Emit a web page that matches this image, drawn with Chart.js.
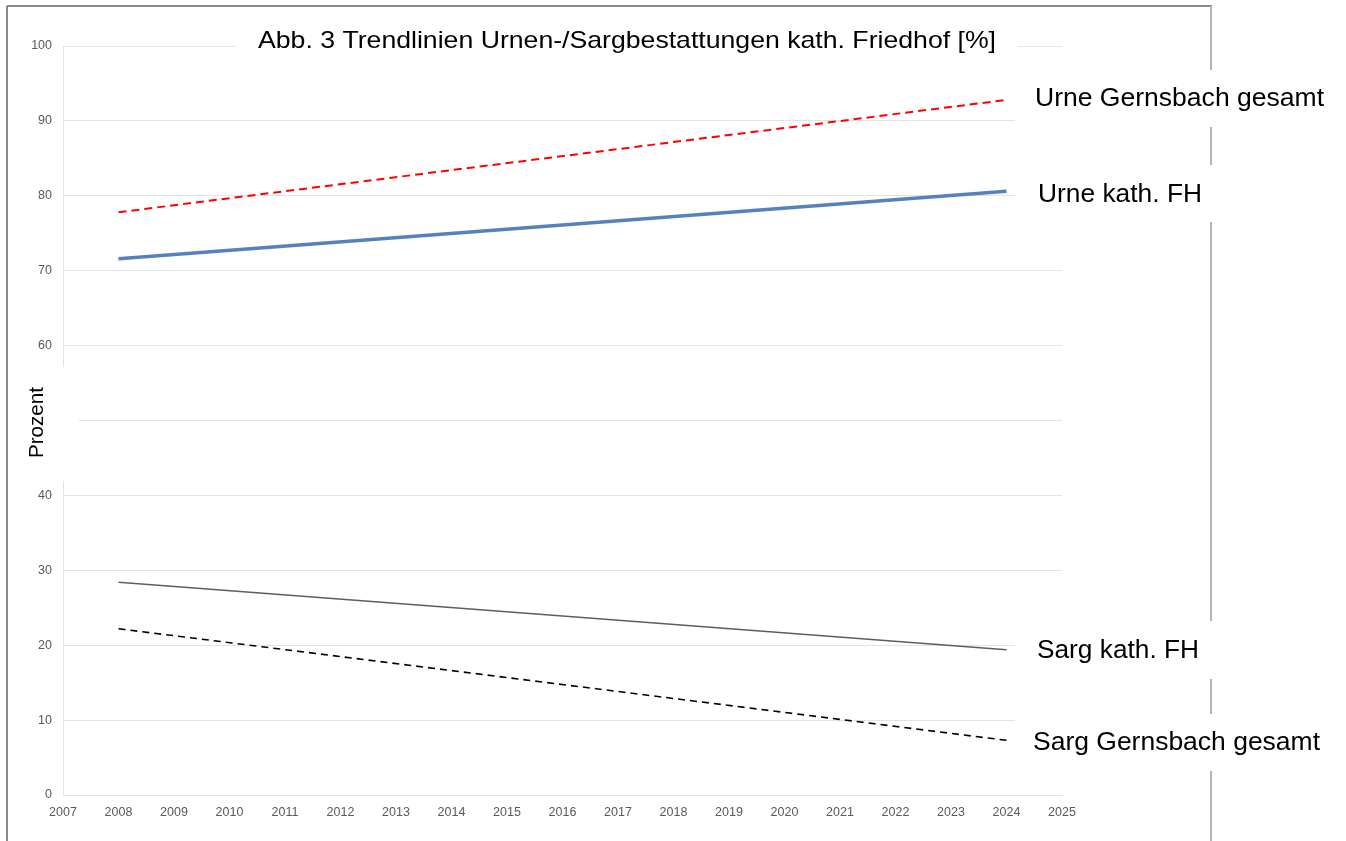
<!DOCTYPE html>
<html>
<head>
<meta charset="utf-8">
<script src="https://cdn.jsdelivr.net/npm/chart.js@4"></script>
<style>
  html, body { margin: 0; padding: 0; background: #fff; }
  canvas { display: block; }
</style>
</head>
<body>
<canvas id="trend-chart" width="1346" height="841"></canvas>
<script>
const years = [2008, 2024];
const urneGernsbach = [77.8, 92.8];
const urneKath = [71.6, 80.6];
const sargKath = [28.4, 19.4];
const sargGernsbach = [22.2, 7.3];

const seriesNames = ["Urne Gernsbach gesamt", "Urne kath. FH", "Sarg kath. FH", "Sarg Gernsbach gesamt"];
const titleText = "Abb. 3 Trendlinien Urnen-/Sargbestattungen kath. Friedhof [%]";
const yTitle = "Prozent";
const xMin = 2007, xMax = 2025;
const yMin = 0, yMax = 100, yStep = 10;

const FONT = "'Liberation Sans', Arial, sans-serif";
const gridColor = "#e3e3e3";

function points(values) {
    return years.map((yr, i) => ({ x: yr, y: values[i] }));
}

// draw text squeezed/stretched to a given width
function fitText(ctx, text, x, y, size, width) {
    ctx.font = size + "px " + FONT;
    const w = ctx.measureText(text).width;
    ctx.save();
    ctx.translate(x, y);
    ctx.scale(width / w, 1);
    ctx.fillText(text, 0, 0);
    ctx.restore();
}

const decorations = {
    id: "decorations",
    beforeDraw(chart) {
        const ctx = chart.ctx;
        ctx.save();
        ctx.fillStyle = "#fff";
        ctx.fillRect(0, 0, chart.width, chart.height);
        ctx.lineWidth = 2;
        ctx.strokeStyle = "#8a8a8a";
        ctx.beginPath();
        ctx.moveTo(7, 6); ctx.lineTo(1212, 6);
        ctx.moveTo(7, 6); ctx.lineTo(7, 841);
        ctx.stroke();
        ctx.strokeStyle = "#b4b4b4";
        ctx.beginPath();
        ctx.moveTo(1211, 6); ctx.lineTo(1211, 841);
        ctx.stroke();
        ctx.restore();
    },
    afterDraw(chart) {
        const ctx = chart.ctx;
        ctx.save();
        ctx.fillStyle = "#fff";
        ctx.fillRect(236, 12, 782, 48);
        ctx.fillRect(1015, 70, 320, 57);
        ctx.fillRect(1015, 165, 320, 57);
        ctx.fillRect(1015, 621, 320, 58);
        ctx.fillRect(1015, 714, 320, 57);
        ctx.fillRect(12, 367, 67, 114);

        ctx.fillStyle = "#000";
        ctx.textBaseline = "alphabetic";
        ctx.textAlign = "left";
        fitText(ctx, titleText, 258, 48, 24, 738);
        fitText(ctx, seriesNames[0], 1035, 106, 25, 289);
        fitText(ctx, seriesNames[1], 1038, 202, 25, 164);
        fitText(ctx, seriesNames[2], 1037, 658, 25, 162);
        fitText(ctx, seriesNames[3], 1033, 750, 25, 287);

        ctx.save();
        ctx.translate(43, 458);
        ctx.rotate(-Math.PI / 2);
        fitText(ctx, yTitle, 0, 0, 20, 71);
        ctx.restore();
        ctx.restore();
    }
};

const trendChart = new Chart(document.getElementById("trend-chart"), {
    type: "line",
    data: {
        datasets: [
            {
                label: seriesNames[0],
                data: points(urneGernsbach),
                borderColor: "#ff0000",
                borderWidth: 2,
                borderDash: [8, 5],
                pointRadius: 0,
                order: 2,
            },
            {
                label: seriesNames[1],
                data: points(urneKath),
                borderColor: "#5582bf",
                borderWidth: 3.5,
                pointRadius: 0,
                order: 1,
            },
            {
                label: seriesNames[2],
                data: points(sargKath),
                borderColor: "#5e5e5e",
                borderWidth: 1.5,
                pointRadius: 0,
            },
            {
                label: seriesNames[3],
                data: points(sargGernsbach),
                borderColor: "#000000",
                borderWidth: 1.6,
                borderDash: [7, 5],
                pointRadius: 0,
            },
        ],
    },
    options: {
        responsive: false,
        animation: false,
        devicePixelRatio: 1,
        layout: { padding: { left: 8, right: 284, top: 46, bottom: 16 } },
        plugins: {
            legend: { display: false },
            tooltip: { enabled: false },
        },
        scales: {
            x: {
                type: "linear",
                min: xMin,
                max: xMax,
                afterFit: (scale) => { scale.height = 30; },
                grid: { display: false },
                border: { display: true, color: gridColor },
                ticks: {
                    stepSize: 1,
                    padding: 2,
                    color: "#595959",
                    font: { family: FONT, size: 12.5 },
                    callback: (v) => String(v),
                },
            },
            y: {
                min: yMin,
                max: yMax,
                afterFit: (scale) => { scale.width = 55; },
                grid: { color: gridColor, drawTicks: false },
                border: { display: true, color: gridColor },
                ticks: {
                    stepSize: yStep,
                    padding: 11,
                    color: "#595959",
                    font: { family: FONT, size: 12.5 },
                    callback: (v) => (v === 50 ? "" : String(v)),
                },
            },
        },
    },
    plugins: [decorations],
});
</script>
</body>
</html>
